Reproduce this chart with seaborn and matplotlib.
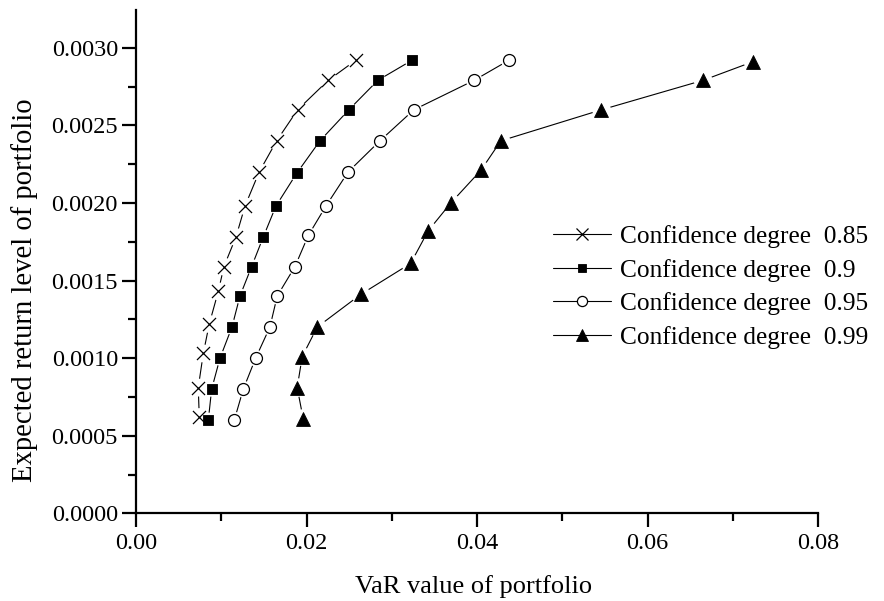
import numpy as np
import pandas as pd
import matplotlib
matplotlib.use("Agg")
import matplotlib.pyplot as plt
from matplotlib.lines import Line2D
import seaborn as sns

# ---- data ----
var_085 = [0.00742, 0.00730, 0.00789, 0.00859, 0.00965, 0.01031, 0.01172, 0.01278,
           0.01445, 0.01649, 0.01895, 0.02254, 0.02579]
ret_085 = [0.00062, 0.00081, 0.00103, 0.00122, 0.00143, 0.00159, 0.00178, 0.00198,
           0.00220, 0.00240, 0.00260, 0.00279, 0.00292]

var_090 = [0.00848, 0.00887, 0.00985, 0.01125, 0.01219, 0.01356, 0.01492, 0.01641,
           0.01883, 0.02157, 0.02496, 0.02836, 0.03239]
ret_090 = [0.00060, 0.00080, 0.00100, 0.00120, 0.00140, 0.00159, 0.00178, 0.00198,
           0.00219, 0.00240, 0.00260, 0.00279, 0.00292]

var_095 = [0.01152, 0.01258, 0.01403, 0.01570, 0.01656, 0.01864, 0.02020, 0.02227,
           0.02488, 0.02860, 0.03258, 0.03965, 0.04375]
ret_095 = [0.00060, 0.00080, 0.00100, 0.00120, 0.00140, 0.00159, 0.00179, 0.00198,
           0.00220, 0.00240, 0.00260, 0.00279, 0.00292]

var_099 = [0.01960, 0.01890, 0.01949, 0.02125, 0.02634, 0.03220, 0.03426, 0.03692,
           0.04044, 0.04278, 0.05458, 0.06649, 0.07235]
ret_099 = [0.00061, 0.00081, 0.00101, 0.00120, 0.00141, 0.00161, 0.00182, 0.00200,
           0.00221, 0.00240, 0.00260, 0.00279, 0.00291]

labels = ["Confidence degree  0.85", "Confidence degree  0.9",
          "Confidence degree  0.95", "Confidence degree  0.99"]
x_ticks = [0.00, 0.02, 0.04, 0.06, 0.08]
x_ticklabels = ["0.00", "0.02", "0.04", "0.06", "0.08"]
y_ticks = [0.0000, 0.0005, 0.0010, 0.0015, 0.0020, 0.0025, 0.0030]
y_ticklabels = ["0.0000", "0.0005", "0.0010", "0.0015", "0.0020", "0.0025", "0.0030"]

series = [(var_085, ret_085), (var_090, ret_090), (var_095, ret_095), (var_099, ret_099)]

sns.set_theme(style="ticks")
plt.rcParams["font.family"] = ["Liberation Serif", "DejaVu Serif"]
plt.rcParams["text.color"] = "black"
plt.rcParams["axes.labelcolor"] = "black"
plt.rcParams["xtick.color"] = "black"
plt.rcParams["ytick.color"] = "black"

fig = plt.figure(figsize=(8.84, 6.01), dpi=100)
ax = fig.add_axes([136 / 884, 1 - 513.3 / 601, (818.3 - 136) / 884, (513.3 - 10) / 601])

# marker sizes in points (1 px = 0.72 pt at 100 dpi)
styles = [
    dict(marker="x", size=9.4, face="black", edge="black", lw=0.9),
    dict(marker="s", size=7.4, face="black", edge="black", lw=0.6),
    dict(marker="o", size=8.6, face="white", edge="black", lw=0.9),
    dict(marker="^", size=10.0, face="black", edge="black", lw=0.6),
]

for (xs, ys), lab, st in zip(series, labels, styles):
    df = pd.DataFrame({"VaR": xs, "ret": ys})
    sns.lineplot(data=df, x="VaR", y="ret", sort=False, estimator=None,
                 color="black", lw=0.8, ax=ax, zorder=2)
    # white halo behind markers (gap in the line, Origin style)
    sns.scatterplot(data=df, x="VaR", y="ret", marker="o", s=(st["size"] + 3.5) ** 2,
                    color="white", edgecolor="none", linewidth=0, ax=ax, zorder=3)
    sns.scatterplot(data=df, x="VaR", y="ret", marker=st["marker"], s=st["size"] ** 2,
                    color=st["face"], edgecolor=st["edge"], linewidth=st["lw"],
                    ax=ax, zorder=4)

ax.set_xlim(0, 0.08)
ax.set_ylim(0, 0.003243)
ax.set_xticks(x_ticks)
ax.set_xticklabels(x_ticklabels)
ax.set_yticks(y_ticks)
ax.set_yticklabels(y_ticklabels)
ax.set_xticks([0.01, 0.03, 0.05, 0.07], minor=True)
ax.set_yticks([0.00025, 0.00075, 0.00125, 0.00175, 0.00225, 0.00275], minor=True)

for s in ["top", "right"]:
    ax.spines[s].set_visible(False)
for s in ["left", "bottom"]:
    ax.spines[s].set_linewidth(1.6)
    ax.spines[s].set_color("black")

ax.tick_params(axis="both", which="major", direction="out", length=10, width=1.6,
               colors="black", labelcolor="black", labelsize=17.5)
ax.tick_params(axis="x", which="major", pad=4)
ax.tick_params(axis="y", which="major", pad=3)
ax.tick_params(axis="both", which="minor", direction="out", length=6, width=1.6,
               colors="black")

ax.set_xlabel("VaR value of portfolio", fontsize=19, color="black")
ax.xaxis.set_label_coords(0.4954, -0.123)
ax.set_ylabel("Expected return level of portfolio", fontsize=20.6, color="black")
ax.yaxis.set_label_coords(-0.143, 0.4437)

handles = []
for st in styles:
    handles.append(Line2D([0], [0], color="black", lw=0.8, marker=st["marker"],
                          markersize=st["size"] * 0.85, markerfacecolor=st["face"],
                          markeredgecolor=st["edge"], markeredgewidth=st["lw"]))
leg = ax.legend(handles, labels, loc="upper left",
                bbox_to_anchor=(553 / 884, 1 - 225 / 601),
                bbox_transform=fig.transFigure, frameon=False, fontsize=18.3,
                handlelength=2.3, handletextpad=0.33, labelspacing=0.42, borderpad=0,
                borderaxespad=0)
for t in leg.get_texts():
    t.set_color("black")

fig.savefig("out.png", dpi=100)
